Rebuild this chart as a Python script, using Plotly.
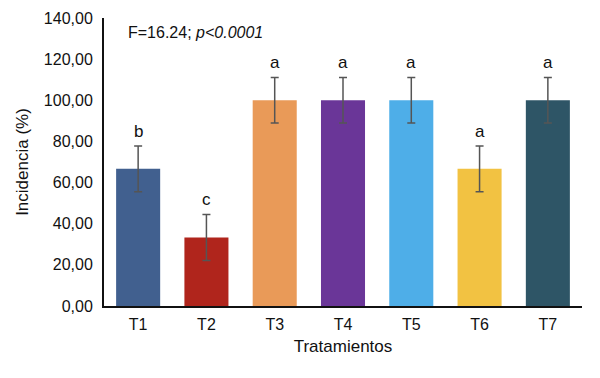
import plotly.graph_objects as go

categories = ["T1", "T2", "T3", "T4", "T5", "T6", "T7"]
values = [66.67, 33.33, 100.0, 100.0, 100.0, 66.67, 100.0]
errors = [11.1, 11.2, 11.1, 11.1, 11.1, 11.1, 11.1]
letters = ["b", "c", "a", "a", "a", "a", "a"]
colors = ["#41608F", "#B0251C", "#E99A58", "#6A3698", "#4EAEE8", "#F2C242", "#2E5566"]
y_ticks = [0, 20, 40, 60, 80, 100, 120, 140]

font_family = "Liberation Sans, Arial, sans-serif"

fig = go.Figure()
fig.add_trace(go.Bar(
    x=categories, y=values,
    marker=dict(color=colors, line=dict(width=0)),
    error_y=dict(type="data", array=errors, visible=True, color="#555555", thickness=1.5, width=4),
    showlegend=False,
))

for c, v, e, l in zip(categories, values, errors, letters):
    fig.add_annotation(x=c, y=v + e, text=l, showarrow=False, yanchor="bottom", yshift=3,
                       font=dict(family=font_family, size=17, color="#111111"))

fig.add_annotation(xref="paper", yref="paper", x=0.045, y=0.95, xanchor="left", yanchor="middle",
                   text="F=16.24; <i>p<0.0001</i>", showarrow=False,
                   font=dict(family=font_family, size=16, color="#111111"))

fig.update_layout(
    width=600, height=378,
    margin=dict(l=104, r=18, t=18, b=72),
    paper_bgcolor="white", plot_bgcolor="white",
    separators=",.",
    bargap=0.355,
    font=dict(family=font_family, size=15, color="#111111"),
    xaxis=dict(title=dict(text="Tratamientos", font=dict(size=17), standoff=8),
               showline=True, linecolor="#111111", linewidth=2, ticks="", showgrid=False,
               tickfont=dict(size=16), ticklabelstandoff=3, automargin=False),
    yaxis=dict(title=dict(text="Incidencia (%)", font=dict(size=17), standoff=11),
               range=[0, 140], tickvals=y_ticks, tickformat=".2f",
               showline=True, linecolor="#111111", linewidth=2, ticks="", showgrid=False,
               zeroline=False, tickfont=dict(size=16), ticklabelstandoff=6, automargin=False),
)

fig.write_html("out.html", config={"displayModeBar": False},
               post_script="document.body.style.margin='0';")
